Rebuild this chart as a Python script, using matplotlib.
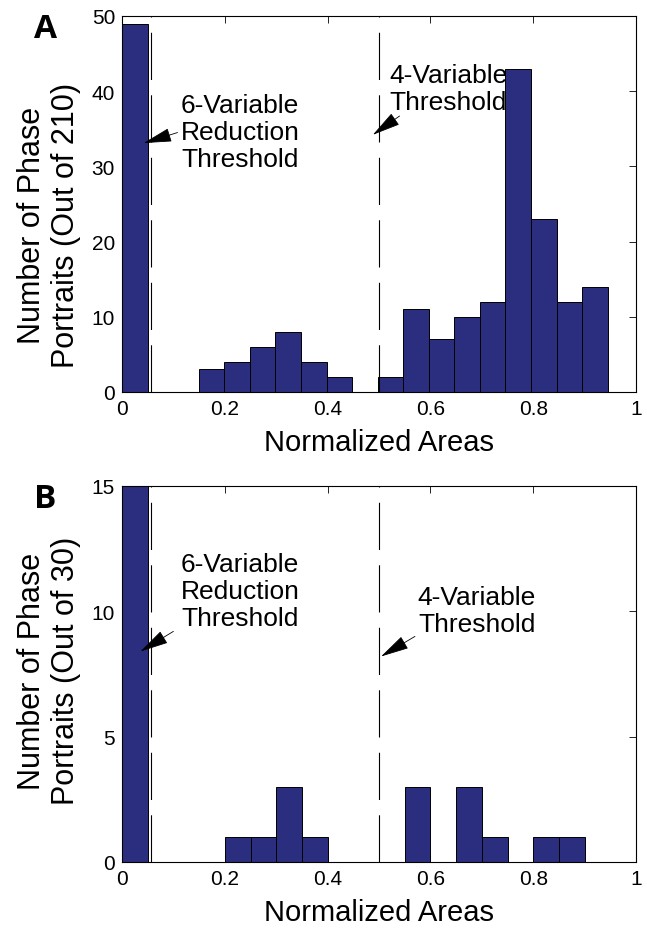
import numpy as np
import matplotlib
matplotlib.use("Agg")
import matplotlib.pyplot as plt

plt.rcParams['font.family'] = ['Liberation Sans', 'DejaVu Sans']
plt.rcParams['lines.scale_dashes'] = False

# panel A: 210 phase portraits, 19 bins
edges_a = np.linspace(0, 0.945, 20)
counts_a = [49, 0, 0, 3, 4, 6, 8, 4, 2, 0, 2, 11, 7, 10, 12, 43, 23, 12, 14]
# panel B: 30 phase portraits, 18 bins
edges_b = np.linspace(0, 0.9, 19)
counts_b = [15, 0, 0, 0, 1, 1, 3, 1, 0, 0, 0, 3, 0, 3, 1, 0, 1, 1]

thresh_6 = 0.056
thresh_4 = 0.5

bar_color = '#2b2e7e'
arrow_kw = dict(arrowstyle='-|>,head_length=0.9,head_width=0.22', color='black',
                lw=0.6, mutation_scale=20, shrinkA=0, shrinkB=0)

fig = plt.figure(figsize=(6.47, 9.29), dpi=100)
W, H = 647, 929


def make_axes(top, bottom):
    return fig.add_axes([122 / W, 1 - bottom / H, (636 - 122) / W, (bottom - top) / H])


def draw_panel(ax, edges, counts, ymax, yticks, ylabel, label_y):
    ax.bar(edges[:-1], counts, width=np.diff(edges), align='edge',
           color=bar_color, edgecolor='black', linewidth=0.7, zorder=2)
    ax.axvline(thresh_6, color='black', lw=0.8, ls=(0, (34, 11)), zorder=3)
    ax.axvline(thresh_4, color='black', lw=0.8, ls=(0, (34, 11)), zorder=3)
    ax.set_xlim(0, 1)
    ax.set_ylim(0, ymax)
    ax.set_xticks([0, 0.2, 0.4, 0.6, 0.8, 1])
    ax.set_xticklabels(['0', '0.2', '0.4', '0.6', '0.8', '1'])
    ax.set_yticks(yticks)
    ax.tick_params(direction='in', top=True, right=True, labelsize=15,
                   length=5, width=0.6, pad=5)
    for s in ax.spines.values():
        s.set_linewidth(0.8)
    ax.set_xlabel('Normalized Areas', fontsize=21, labelpad=7)
    ax.set_ylabel(ylabel, fontsize=22, linespacing=1.15)
    ax.yaxis.set_label_coords(-0.08, label_y)


ax1 = make_axes(17, 393)
draw_panel(ax1, edges_a, counts_a, 50, [0, 10, 20, 30, 40, 50],
           'Number of Phase\nPortraits (Out of 210)', 0.445)
ax1.text(0.23, 34.6, '6-Variable\nReduction\nThreshold', ha='center', va='center',
         fontsize=19, linespacing=1.15, zorder=1)
ax1.annotate('', xy=(0.042, 33.1), xytext=(0.108, 34.5), arrowprops=arrow_kw)
ax1.text(0.635, 40.4, '4-Variable\nThreshold', ha='center', va='center',
         fontsize=19, linespacing=1.15, zorder=1)
ax1.annotate('', xy=(0.488, 34.2), xytext=(0.54, 36.7), arrowprops=arrow_kw)

ax2 = make_axes(487, 863)
draw_panel(ax2, edges_b, counts_b, 15, [0, 5, 10, 15],
           'Number of Phase\nPortraits (Out of 30)', 0.51)
ax2.text(0.23, 10.8, '6-Variable\nReduction\nThreshold', ha='center', va='center',
         fontsize=19, linespacing=1.15)
ax2.annotate('', xy=(0.036, 8.4), xytext=(0.1, 9.2), arrowprops=arrow_kw)
ax2.text(0.69, 10.05, '4-Variable\nThreshold', ha='center', va='center',
         fontsize=19, linespacing=1.15)
ax2.annotate('', xy=(0.504, 8.2), xytext=(0.57, 9.0), arrowprops=arrow_kw)

fig.text(45 / W, 1 - 30 / H, 'A', fontsize=24, fontweight='bold',
         ha='center', va='center', family=['Open Sans', 'DejaVu Sans'])
fig.text(45 / W, 1 - 500 / H, 'B', fontsize=24, fontweight='bold',
         ha='center', va='center', family=['Open Sans', 'DejaVu Sans'])

fig.savefig('out.png', dpi=100)
